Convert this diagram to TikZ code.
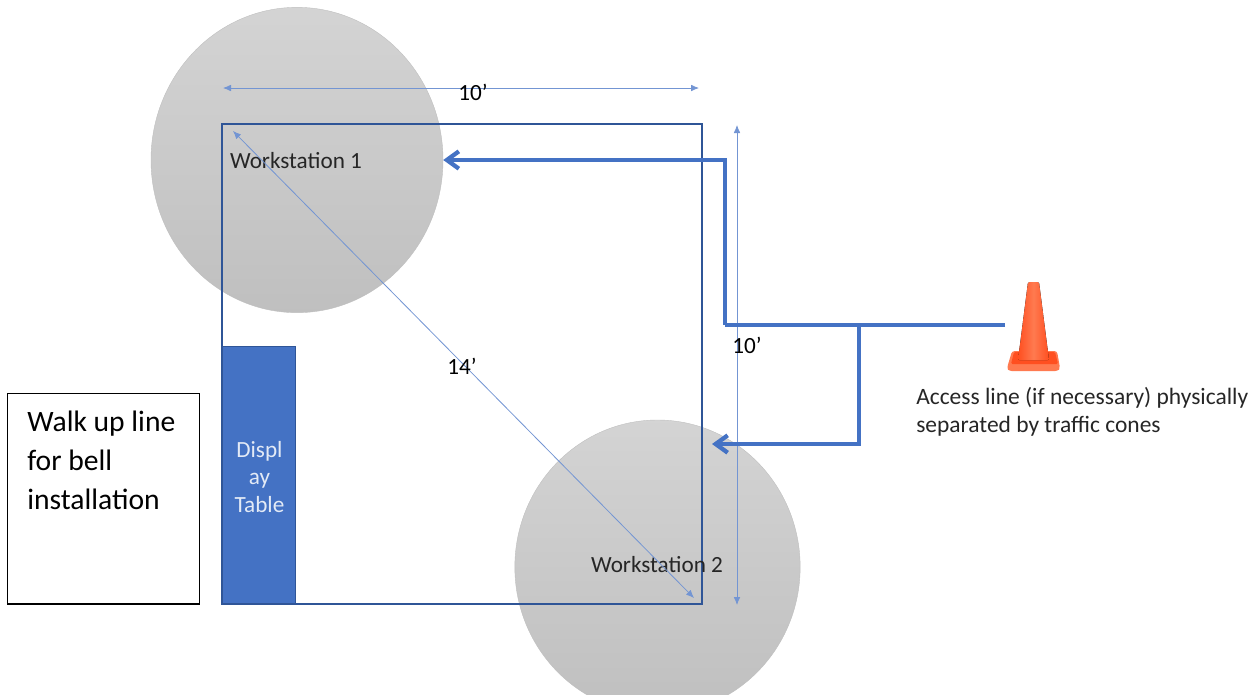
\documentclass[tikz,border=0pt]{standalone}
\usepackage{fontspec}
\setmainfont{Carlito}
\usetikzlibrary{arrows.meta,shapes.geometric}
\definecolor{bluedark}{HTML}{2F5597}
\definecolor{blueline}{HTML}{4472C4}
\definecolor{conered}{HTML}{FF4F20}
\definecolor{coneedge}{HTML}{FF7A50}
\tikzset{
    station/.style={ellipse,draw=gray!50,line width=0.3pt,top color=black!17,bottom color=black!25,inner sep=0pt},
    label/.style={font=\fontsize{17.4}{21}\selectfont,text=black!85,inner sep=0pt},
    accessline/.style={draw=blueline,line width=2.6pt,line cap=butt,line join=miter},
    accessarrow/.style={accessline,-{Straight Barb[length=9pt,width=13pt,line width=3.2pt]}},
    dimline/.style={draw=blueline!75,line width=0.6pt,{Latex[length=6pt,width=5pt]}-{Latex[length=6pt,width=5pt]}}
}
\begin{document}
\begin{tikzpicture}[x=0.75pt,y=-0.75pt]
    \useasboundingbox (0,0) rectangle (1253,694);

    % stations
    \node[station,minimum width=219pt,minimum height=229pt] (ws1) at (297,160) {};
    \node[station,minimum width=214pt,minimum height=220.5pt] (ws2) at (657.5,567) {};

    % square area
    \draw[bluedark,line width=0.9pt] (222,124) rectangle (702,604);
    \node[fill=blueline,draw=bluedark,line width=0.5pt,minimum width=55pt,minimum height=193pt,inner sep=0pt] (table) at (259,475) {};
    \node[label,text=white!85!blueline,align=center,font=\fontsize{17.4}{20.6}\selectfont] (tablelabel) at (259.5,477) {Displ\\ay\\Table};

    \node[label] (ws1label) at (296,161) {Workstation 1};
    \node[label] (ws2label) at (657,565) {Workstation 2};

    % dimensions
    \coordinate (wleft) at (223,88);
    \coordinate (wright) at (699,88);
    \coordinate (htop) at (737,125);
    \coordinate (hbot) at (737,605);
    \coordinate (dtop) at (233,131);
    \coordinate (dbot) at (694,598);
    \draw[dimline] (wleft) -- (wright);
    \draw[dimline] (htop) -- (hbot);
    \draw[dimline] (dtop) -- (dbot);
    \node[label,text=black] (wlabel) at (473,92) {10’};
    \node[label,text=black] (hlabel) at (747,345) {10’};
    \node[label,text=black] (dlabel) at (462,366) {14’};

    % access line
    \coordinate (linestart) at (1005,325);
    \coordinate (bendtop) at (725,325);
    \coordinate (bendup) at (725,160);
    \coordinate (branch) at (859,325);
    \coordinate (branchlow) at (859,444);
    \coordinate (ws2in) at (712,444);
    \draw[accessline] (linestart) -- (bendtop);
    \draw[accessarrow] (bendtop) -- (bendup) -- (ws1.east);
    \draw[accessarrow] (branch) -- (branchlow) -- (ws2in);

    % cone
    \fill[coneedge,rounded corners=2pt] (1007,368) -- (1012,351) -- (1057,351) -- (1060,368) -- (1058,371) -- (1009,371) -- cycle;
    \fill[conered,rounded corners=1pt] (1011,364) -- (1014,352) -- (1055,352) -- (1058,364) -- cycle;
    \fill[left color=conered,right color=conered,middle color=coneedge,rounded corners=1pt] (1018,360) -- (1028,282) -- (1039,282) -- (1049,360) -- cycle;
    \node[font=\fontsize{17.6}{21}\selectfont,text=black!85,align=left,inner sep=0pt,anchor=north west] (conelabel) at (916,387) {Access line (if necessary) physically\\separated by traffic cones};

    % walk up
    \node[draw=black,line width=1pt,minimum width=144pt,minimum height=158pt,inner sep=0pt] (walkbox) at (103.5,498.5) {};
    \node[font=\fontsize{22.2}{29}\selectfont,text=black,align=left,inner sep=0pt,anchor=north west] (walklabel) at (27,411) {Walk up line\\for bell\\installation};
\end{tikzpicture}
\end{document}
